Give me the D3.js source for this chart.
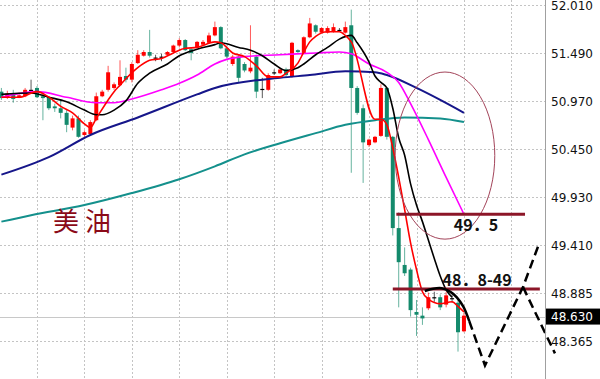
<!DOCTYPE html>
<html>
<head>
<meta charset="utf-8">
<script src="https://cdn.jsdelivr.net/npm/d3@7"></script>
<style>
  body { margin: 0; background: #fff; }
  svg { display: block; }
</style>
</head>
<body>
<div id="chart"></div>
<script>
// right axis price ticks
const yTicks = [52.010, 51.490, 50.970, 50.450, 49.930, 49.410, 48.885, 48.365];
const lastPrice = 48.630;
// candle index of each vertical grid line
const gridIdx = [6, 14, 22, 30, 38, 46, 54, 62, 70, 78, 86];

// OHLC, one value per bar
const opens = [51.07,51.01,51.05,51.01,51.02,51.09,51.11,51.02,51.01,50.91,
  50.89,50.84,50.68,50.78,50.60,50.61,50.76,51.02,51.09,51.11,
  51.14,51.24,51.20,51.38,51.46,51.50,51.44,51.45,51.47,51.50,
  51.57,51.63,51.53,51.55,51.58,51.60,51.68,51.77,51.54,51.37,
  51.45,51.37,51.29,51.45,51.10,51.09,51.28,51.27,51.31,51.23,
  51.52,51.49,51.66,51.79,51.71,51.71,51.72,51.74,51.71,51.79,
  51.11,50.89,50.49,50.52,50.59,51.11,50.58,49.59,49.19,49.14,
  48.68,48.64,48.72,48.84,48.84,48.76,48.83,48.78,48.47];
const highs = [51.11,51.08,51.09,51.04,51.11,51.20,51.13,51.06,51.02,50.94,
  50.98,50.87,50.81,50.81,50.65,50.76,51.06,51.09,51.35,51.17,
  51.41,51.33,51.39,51.52,51.52,51.74,51.47,51.48,51.51,51.58,
  51.65,51.64,51.55,51.62,51.63,51.71,51.83,51.78,51.57,51.47,
  51.47,51.39,51.79,51.47,51.22,51.27,51.31,51.32,51.33,51.61,
  51.53,51.67,51.87,51.80,51.77,51.78,51.81,51.76,51.83,51.96,
  51.13,50.93,50.56,50.59,51.15,51.12,50.59,49.76,49.38,49.16,
  48.81,48.73,48.89,48.90,48.87,48.90,48.87,48.81,48.67];
const lows = [50.98,50.99,50.95,51.00,51.01,51.08,51.00,50.76,50.87,50.85,
  50.78,50.63,50.65,50.57,50.58,50.59,50.75,51.01,51.07,51.09,
  51.13,51.17,51.17,51.37,51.45,51.44,51.40,51.40,51.46,51.49,
  51.55,51.51,51.41,51.54,51.57,51.59,51.67,51.53,51.43,51.35,
  51.17,51.28,51.27,51.00,51.00,51.08,51.25,51.26,51.23,51.22,
  51.49,51.48,51.65,51.70,51.70,51.70,51.71,51.72,51.70,50.19,
  50.82,50.08,50.47,50.51,50.58,50.55,49.51,48.73,49.07,48.63,
  48.42,48.54,48.70,48.79,48.70,48.73,48.78,48.25,48.46];
const closes = [51.00,51.05,50.99,51.03,51.09,51.09,51.01,51.00,50.89,50.89,
  50.84,50.71,50.78,50.58,50.63,50.74,51.02,51.07,51.28,51.15,
  51.23,51.20,51.37,51.47,51.50,51.46,51.44,51.45,51.50,51.57,
  51.63,51.52,51.49,51.61,51.61,51.68,51.77,51.54,51.45,51.45,
  51.22,51.30,51.33,51.07,51.10,51.25,51.28,51.31,51.25,51.60,
  51.50,51.66,51.81,51.72,51.76,51.76,51.77,51.74,51.77,51.11,
  50.84,50.52,50.55,50.58,51.11,50.58,49.59,49.22,49.10,48.70,
  48.65,48.61,48.84,48.84,48.73,48.86,48.83,48.46,48.64];

// moving averages: [bar index, price]
const maFast = [[0,51.01],[3,51.01],[6,51.07],[8,51.01],[10,50.91],[12,50.84],[14,50.72],[15,50.68],
  [16,50.78],[18,50.98],[19,51.07],[20,51.14],[21,51.21],[23,51.33],[25,51.41],[27,51.43],[29,51.49],
  [31,51.54],[33,51.55],[36,51.61],[37,51.60],[39,51.49],[41,51.45],[43,51.35],[45,51.23],[47,51.23],
  [48,51.27],[50,51.38],[51,51.50],[52,51.61],[53,51.67],[55,51.72],[57,51.72],[58,51.68],[59,51.61],
  [63,50.77],[64,50.77],[65,50.71],[66,50.46],[67,50.14],[68,49.79],[69,49.43],[70,49.14],[71,48.90],
  [72,48.82],[74,48.77],[76,48.79],[77,48.74],[78,48.68]];
const maTen = [[0,51.04],[5,51.055],[8,51.01],[11,50.96],[14,50.87],[16,50.82],[17,50.82],[19,50.87],
  [21,50.97],[23,51.16],[25,51.27],[28,51.37],[30,51.46],[33,51.53],[36,51.58],[37,51.60],[40,51.55],
  [42,51.52],[44,51.46],[46,51.37],[48,51.30],[50,51.33],[51,51.37],[53,51.47],[55,51.55],[57,51.64],
  [59,51.68],[60,51.60],[62,51.39],[63,51.24],[64,51.17],[65,51.11],[66,50.89],[67,50.57],[68,50.38],
  [69,50.07],[70,49.84],[71,49.66],[72,49.46],[73,49.26],[74,49.07],[75,48.92],[76,48.84]];
const maTwenty = [[0,51.01],[6,51.07],[11,51.01],[16,50.95],[19,50.95],[22,50.99],[27,51.09],[30,51.16],
  [33,51.25],[36,51.37],[38,51.42],[41,51.45],[47,51.47],[53,51.49],[57,51.50],[59,51.48],[62,51.37],
  [65,51.28],[67,51.17],[69,50.94],[72,50.55],[75,50.14],[78,49.74]];
const maSixty = [[0,50.17],[8,50.36],[15,50.60],[23,50.79],[33,51.04],[36,51.11],[47,51.22],[52,51.25],
  [58,51.29],[63,51.28],[65,51.25],[70,51.11],[74,50.98],[78,50.84]];
const maLong = [[0,49.66],[5,49.73],[14,49.84],[22,49.97],[30,50.12],[36,50.26],[41,50.39],[47,50.51],
  [53,50.62],[58,50.71],[63,50.76],[68,50.79],[74,50.78],[78,50.74]];

// hand drawn marks, in [bar index, price]
const levelLines = [[66.6, 88.3, 49.74], [66.0, 90.8, 48.93]];
const levelLabels = [['49．5', 76.3, 49.56], ['48．8-49', 74.4, 48.96]];
const ellipseBox = [66.4, 83.2, 49.47, 51.283];
const arcPts = [[71.4,48.907],[72.8,48.932],[74.25,48.937],[75.65,48.90],[76.8,48.839],[77.9,48.737],[78.9,48.58]];
const pathDown = [[78.9,48.58],[81.55,48.10],[87.96,48.951],[90.7,49.425]];
const pathUp = [[87.96,48.951],[93.35,48.231]];
const title = ['美油', 8.7, 49.56];

const W = 600, H = 379, axisX = 545;
const svg = d3.select('#chart').append('svg').attr('width', W).attr('height', H);

const x = d3.scaleLinear().domain([0, 92]).range([1.4, 1.4 + 5.93 * 92]);
const y = d3.scaleLinear().domain([48.365, 52.010]).range([341, 5]);

// grid
const grid = svg.append('g').attr('stroke', '#c4c4c4').attr('stroke-dasharray', '2,2');
grid.selectAll('.hg').data(yTicks).join('line')
  .attr('x1', 0).attr('x2', axisX)
  .attr('y1', d => Math.round(y(d)) + 0.5).attr('y2', d => Math.round(y(d)) + 0.5);
grid.selectAll('.vg').data(gridIdx).join('line')
  .attr('x1', d => Math.round(x(d)) + 0.5).attr('x2', d => Math.round(x(d)) + 0.5)
  .attr('y1', 0).attr('y2', H);

// last price line
svg.append('line')
  .attr('x1', 0).attr('x2', axisX)
  .attr('y1', Math.round(y(lastPrice)) + 0.5).attr('y2', Math.round(y(lastPrice)) + 0.5)
  .attr('stroke', '#c8c8c8');

// candles
const candles = opens.map((o, i) => ({ i, o, h: highs[i], l: lows[i], c: closes[i] }));
const col = d => d.c > d.o ? '#ff0000' : d.c < d.o ? '#148a6c' : '#000';
const cg = svg.append('g');
cg.selectAll('line').data(candles).join('line')
  .attr('x1', d => x(d.i)).attr('x2', d => x(d.i))
  .attr('y1', d => y(d.h)).attr('y2', d => y(d.l))
  .attr('stroke', col).attr('stroke-opacity', 0.65);
cg.selectAll('rect').data(candles).join('rect')
  .attr('x', d => x(d.i) - 2)
  .attr('width', 4)
  .attr('y', d => y(Math.max(d.o, d.c)))
  .attr('height', d => Math.max(1.2, Math.abs(y(d.o) - y(d.c))))
  .attr('fill', col);

// moving averages
const line = d3.line().x(d => x(d[0])).y(d => y(d[1])).curve(d3.curveMonotoneX);
const mas = [
  [maLong, '#14908c', 2],
  [maSixty, '#16168a', 2],
  [maTwenty, '#ff00ff', 1.6],
  [maTen, '#000000', 1.6],
  [maFast, '#ff0000', 1.6]
];
mas.forEach(([pts, c, w]) => {
  svg.append('path').attr('d', line(pts))
    .attr('fill', 'none').attr('stroke', c).attr('stroke-width', w);
});

// annotations
svg.append('ellipse')
  .attr('cx', (x(ellipseBox[0]) + x(ellipseBox[1])) / 2)
  .attr('cy', (y(ellipseBox[2]) + y(ellipseBox[3])) / 2)
  .attr('rx', (x(ellipseBox[1]) - x(ellipseBox[0])) / 2)
  .attr('ry', (y(ellipseBox[2]) - y(ellipseBox[3])) / 2)
  .attr('fill', 'none').attr('stroke', '#a3445a').attr('stroke-width', 1);

svg.selectAll('.lvl').data(levelLines).join('line')
  .attr('x1', d => x(d[0])).attr('x2', d => x(d[1]))
  .attr('y1', d => y(d[2])).attr('y2', d => y(d[2]))
  .attr('stroke', '#8c1628').attr('stroke-width', 3);

svg.selectAll('.lbl').data(levelLabels).join('text')
  .attr('x', d => x(d[1])).attr('y', d => y(d[2]))
  .attr('font-family', '"Noto Sans CJK SC", sans-serif')
  .attr('font-size', 16).attr('font-weight', 'bold').attr('fill', '#111')
  .text(d => d[0]);

svg.append('text')
  .attr('x', x(title[1])).attr('y', y(title[2]))
  .attr('font-family', '"Noto Sans CJK SC", sans-serif')
  .attr('font-size', 26).attr('letter-spacing', 6).attr('fill', '#8b0a18')
  .text(title[0]);

const straight = d3.line().x(d => x(d[0])).y(d => y(d[1]));
svg.append('path').attr('d', d3.line().x(d => x(d[0])).y(d => y(d[1])).curve(d3.curveCatmullRom)(arcPts))
  .attr('fill', 'none').attr('stroke', '#000').attr('stroke-width', 2.5);
[pathDown, pathUp].forEach(p => {
  svg.append('path').attr('d', straight(p))
    .attr('fill', 'none').attr('stroke', '#000').attr('stroke-width', 2.5)
    .attr('stroke-dasharray', '9,5');
});

// right axis
svg.append('line')
  .attr('x1', axisX + 0.5).attr('x2', axisX + 0.5).attr('y1', 0).attr('y2', H)
  .attr('stroke', '#a0a0a0');
const axis = d3.axisRight(y).tickValues(yTicks).tickFormat(d3.format('.3f'))
  .tickSize(0).tickPadding(6);
svg.append('g').attr('transform', `translate(${axisX},0)`).call(axis)
  .call(g => g.select('.domain').remove())
  .attr('font-family', '"DejaVu Sans", Verdana, sans-serif').attr('font-size', 12)
  .selectAll('text').attr('fill', '#111').attr('dy', '0.4em');

// last price tag
const ty = y(lastPrice);
svg.append('rect').attr('x', axisX + 1).attr('y', ty - 8).attr('width', W - axisX - 1).attr('height', 16)
  .attr('fill', '#000');
svg.append('text').attr('x', axisX + 6).attr('y', ty).attr('dy', '0.38em')
  .attr('font-family', '"DejaVu Sans", Verdana, sans-serif').attr('font-size', 12)
  .attr('fill', '#fff').text(d3.format('.3f')(lastPrice));
</script>
</body>
</html>
